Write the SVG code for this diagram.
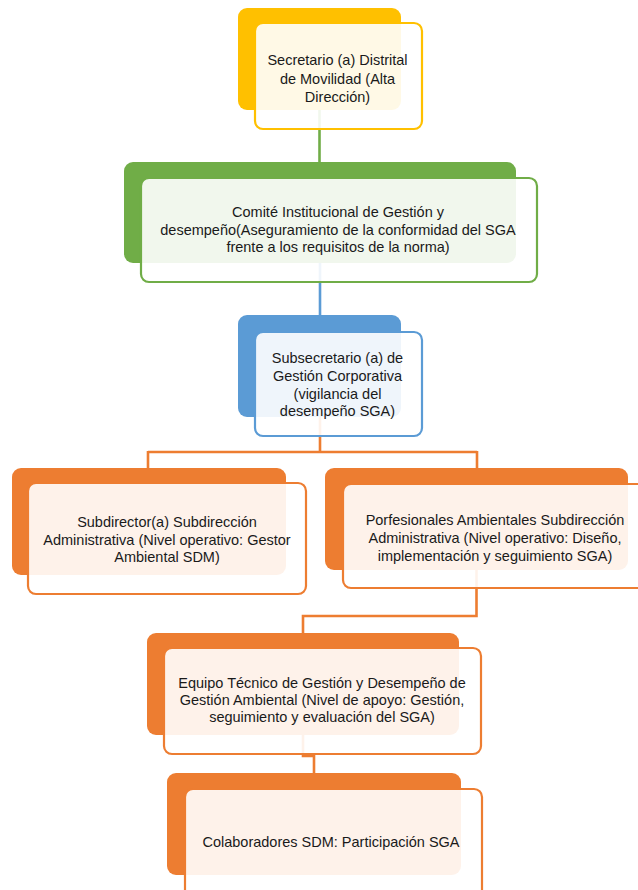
<svg xmlns="http://www.w3.org/2000/svg" width="638" height="890" viewBox="0 0 638 890">
<style>
.front{fill:#ffffff;fill-opacity:0.9;stroke-width:2.2;}
.c{fill:none;stroke-width:2.6;}
text{font-family:"Liberation Sans",Arial,sans-serif;font-size:14.5px;fill:#1a1a1a;text-anchor:middle;}
</style>
<rect width="638" height="890" fill="#ffffff"/>
<g id="connectors">
<path class="c" stroke="#70AD47" d="M319.5 110 V162"/>
<path class="c" stroke="#5B9BD5" d="M320 263 V315"/>
<path class="c" stroke="#ED7D31" d="M320 417 V452 M148 452 H477 M148 451 V468 M477 451 V468"/>
<path class="c" stroke="#ED7D31" d="M476.5 570 V616 H303 V633"/>
<path class="c" stroke="#ED7D31" d="M303 735 V756 H314 V773"/>
</g>
<g id="n1">
<rect x="238" y="8" width="163" height="102" rx="9" fill="#FFC000"/>
<rect class="front" x="255" y="23" width="167" height="106" rx="8" stroke="#FFC000"/>
<text x="337.5" y="65">Secretario (a) Distrital</text>
<text x="337.5" y="83.5">de Movilidad (Alta</text>
<text x="337.5" y="102">Dirección)</text>
</g>
<g id="n2">
<rect x="124" y="162" width="392" height="101" rx="9" fill="#70AD47"/>
<rect class="front" x="141" y="178" width="396" height="104" rx="8" stroke="#70AD47"/>
<text x="338" y="216.5">Comité Institucional de Gestión y</text>
<text x="338" y="234.5">desempeño(Aseguramiento de la conformidad del SGA</text>
<text x="338" y="252">frente a los requisitos de la norma)</text>
</g>
<g id="n3">
<rect x="238" y="315" width="163" height="102" rx="9" fill="#5B9BD5"/>
<rect class="front" x="255" y="332" width="167" height="104" rx="8" stroke="#5B9BD5"/>
<text x="337.5" y="362.5">Subsecretario (a) de</text>
<text x="337.5" y="380.5">Gestión Corporativa</text>
<text x="337.5" y="398.5">(vigilancia del</text>
<text x="337.5" y="416">desempeño SGA)</text>
</g>
<g id="n4">
<rect x="12" y="468" width="274" height="107" rx="9" fill="#ED7D31"/>
<rect class="front" x="28" y="483" width="278" height="111" rx="8" stroke="#ED7D31"/>
<text x="167" y="526.5">Subdirector(a) Subdirección</text>
<text x="167" y="544.5">Administrativa (Nivel operativo: Gestor</text>
<text x="167" y="562">Ambiental SDM)</text>
</g>
<g id="n5">
<rect x="325" y="468" width="303" height="102" rx="9" fill="#ED7D31"/>
<rect class="front" x="343" y="484" width="305" height="104" rx="8" stroke="#ED7D31"/>
<text x="495" y="524.5">Porfesionales Ambientales Subdirección</text>
<text x="495" y="542.5">Administrativa (Nivel operativo: Diseño,</text>
<text x="495" y="560.5">implementación y seguimiento SGA)</text>
</g>
<g id="n6">
<rect x="147" y="633" width="312" height="102" rx="9" fill="#ED7D31"/>
<rect class="front" x="164" y="648" width="317" height="106" rx="8" stroke="#ED7D31"/>
<text x="322" y="687.5">Equipo Técnico de Gestión y Desempeño de</text>
<text x="322" y="704.5">Gestión Ambiental (Nivel de apoyo: Gestión,</text>
<text x="322" y="722">seguimiento y evaluación del SGA)</text>
</g>
<g id="n7">
<rect x="167" y="773" width="294" height="102" rx="9" fill="#ED7D31"/>
<rect class="front" x="185" y="789" width="297" height="110" rx="8" stroke="#ED7D31"/>
<text x="331" y="846.5">Colaboradores SDM: Participación SGA</text>
</g>
</svg>
